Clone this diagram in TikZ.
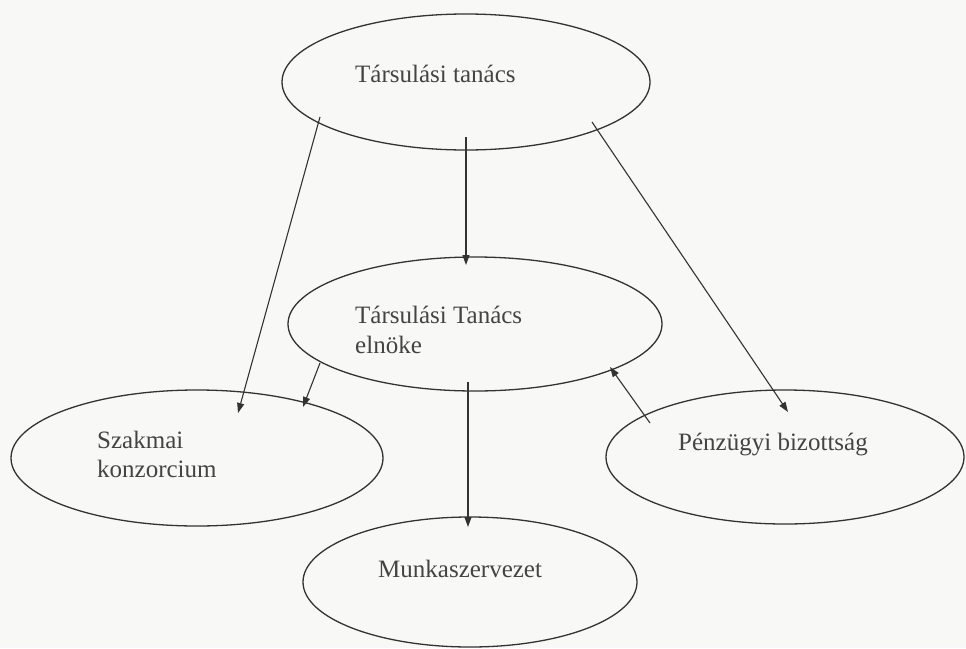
\documentclass[tikz,border=0pt]{standalone}
\usepackage{fontspec}
\setmainfont{Liberation Serif}
\usetikzlibrary{shapes.geometric,arrows.meta}
\definecolor{ink}{HTML}{333333}
\definecolor{txt}{HTML}{444444}
\definecolor{paper}{HTML}{F8F8F6}
\begin{document}
\begin{tikzpicture}[x=1pt,y=-1pt,
  ell/.style={draw=ink, ellipse, line width=1.3pt, inner sep=0pt},
  lbl/.style={font=\fontsize{25}{30}\selectfont, text=txt, anchor=base west, inner sep=0pt},
  arr/.style={draw=ink, -{Triangle[length=10pt,width=7pt]}, line width=1.1pt}]
\fill[paper] (0,0) rectangle (966,648);
\useasboundingbox (0,0) rectangle (966,648);
% ellipses
\node[ell, minimum width=368pt, minimum height=136pt] (tt) at (466,82) {};
\node[ell, minimum width=374pt, minimum height=134pt] (el) at (475,324) {};
\node[ell, minimum width=372pt, minimum height=136pt] (sz) at (197,458) {};
\node[ell, minimum width=358pt, minimum height=134pt] (pb) at (785,457) {};
\node[ell, minimum width=334pt, minimum height=130pt] (mk) at (470,582) {};
% labels
\node[lbl] (tt-t) at (355,82) {Társulási tanács};
\node[lbl] (el-t1) at (355,323) {Társulási Tanács};
\node[lbl] (el-t2) at (355,353) {elnöke};
\node[lbl] (sz-t1) at (97,448) {Szakmai};
\node[lbl] (sz-t2) at (97,477) {konzorcium};
\node[lbl] (pb-t) at (678,450) {Pénzügyi bizottság};
\node[lbl] (mk-t) at (378,577) {Munkaszervezet};
% connector end points
\coordinate (tt-a) at (320,117);
\coordinate (tt-b) at (466,137);
\coordinate (tt-c) at (592,122);
\coordinate (sz-a) at (238,413);
\coordinate (el-a) at (466,265);
\coordinate (pb-a) at (788,412);
\coordinate (el-b) at (320,363);
\coordinate (sz-b) at (303,407);
\coordinate (el-c) at (468,382);
\coordinate (mk-a) at (468,527);
\coordinate (pb-b) at (650,423);
\coordinate (el-d) at (610,367);
% connectors
\draw[arr] (tt-a) -- (sz-a);
\draw[arr] (tt-b) -- (el-a);
\draw[arr] (tt-c) -- (pb-a);
\draw[arr] (el-b) -- (sz-b);
\draw[arr] (el-c) -- (mk-a);
\draw[arr] (pb-b) -- (el-d);
\end{tikzpicture}
\end{document}
